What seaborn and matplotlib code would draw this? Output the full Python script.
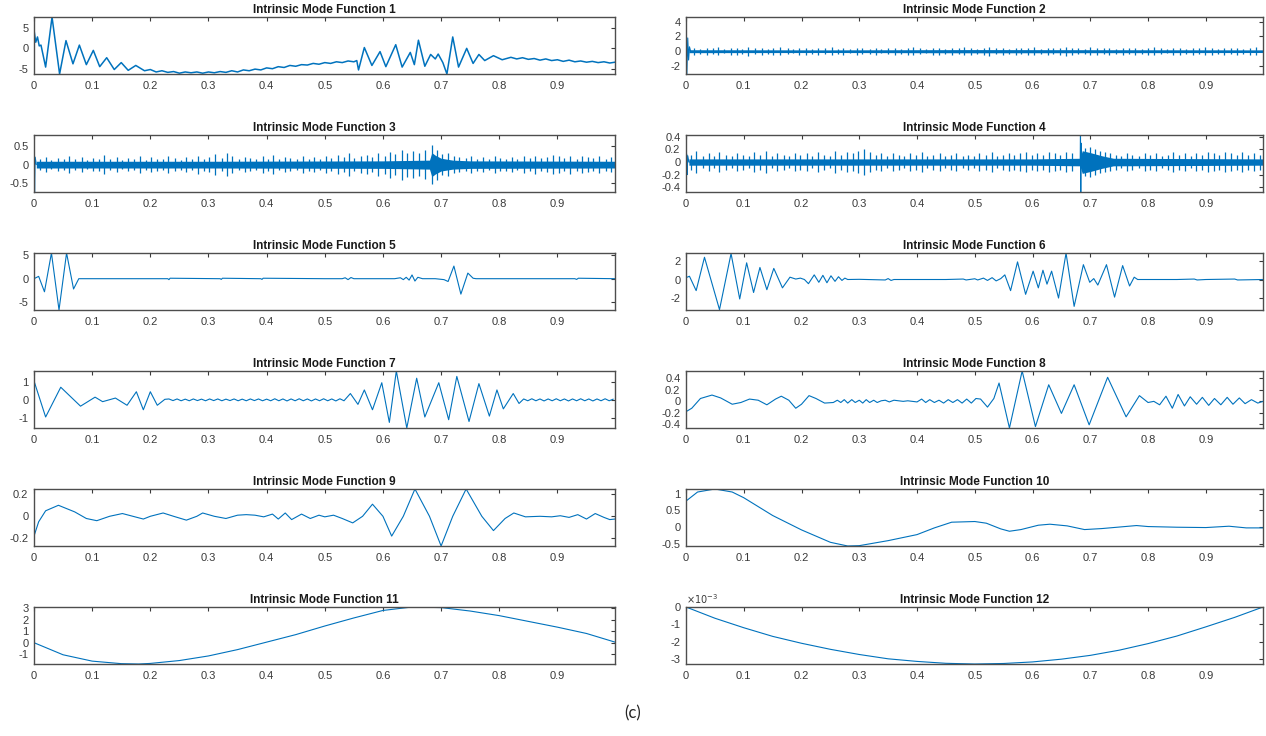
import numpy as np
import matplotlib
matplotlib.use("Agg")
import matplotlib.pyplot as plt
from matplotlib.ticker import FuncFormatter
import seaborn as sns

# ---- values (t in seconds) ----
imf1_t = [0, 0.003, 0.006, 0.009, 0.012, 0.02, 0.031, 0.044, 0.055, 0.067, 0.078, 0.09, 0.102, 0.113,
          0.125, 0.138, 0.15, 0.162, 0.175, 0.19, 0.2, 0.21, 0.22, 0.23, 0.24, 0.25, 0.26, 0.27, 0.28,
          0.29, 0.30, 0.31, 0.32, 0.33, 0.34, 0.35, 0.36, 0.37, 0.38, 0.39, 0.40, 0.41, 0.42, 0.43,
          0.44, 0.45, 0.46, 0.47, 0.48, 0.49, 0.50, 0.51, 0.52, 0.53, 0.54, 0.55, 0.555, 0.558, 0.568,
          0.581, 0.595, 0.605, 0.622, 0.633, 0.647, 0.654, 0.661, 0.672, 0.682, 0.69, 0.695, 0.703,
          0.71, 0.72, 0.73, 0.744, 0.755, 0.765, 0.775, 0.79, 0.805, 0.82, 0.83, 0.84, 0.85, 0.86,
          0.87, 0.88, 0.89, 0.9, 0.91, 0.92, 0.93, 0.94, 0.95, 0.96, 0.97, 0.98, 0.99, 0.999]
imf1_v = [4.5, 1.5, 2.8, 0.6, 0.8, -4.6, 7.7, -6.3, 1.9, -3.8, 0.8, -4.0, -0.5, -4.5,
          -2.3, -5.2, -3.5, -5.4, -4.2, -5.5, -5.2, -5.8, -5.5, -5.9, -5.7, -6.1, -5.8, -6.0, -5.8,
          -6.1, -5.8, -6.0, -5.7, -5.9, -5.5, -5.8, -5.3, -5.5, -5.1, -5.3, -4.8, -5.0, -4.5, -4.7,
          -4.2, -4.4, -4.0, -4.1, -3.7, -3.9, -3.5, -3.7, -3.3, -3.5, -3.1, -3.3, -3.0, -5.3, 0.2,
          -4.2, -0.8, -4.5, 0.9, -4.6, -1.0, -4.0, 2.0, -4.4, -1.5, -2.6, -1.4, -3.5,
          -6.3, 2.8, -4.6, 0.0, -3.7, -1.5, -3.0, -1.8, -2.8, -2.2, -2.6, -2.3, -2.7, -2.5,
          -2.9, -2.6, -3.0, -2.8, -3.2, -2.9, -3.3, -3.1, -3.4, -3.2, -3.5, -3.3, -3.6, -3.4]

imf2_t = [0, 0.0015, 0.003, 0.0045, 0.006, 0.008]
imf2_v = [4.6, -3.1, 1.8, -1.2, 0.6, 0.0]
imf2_env_t = [0.005, 0.25, 0.5, 0.75, 0.999]
imf2_env_a = [0.2, 0.18, 0.22, 0.2, 0.18]
imf2_burst_t = [0.013, 0.024, 0.036, 0.047, 0.055, 0.066, 0.078, 0.088, 0.097, 0.108,
                0.119, 0.131, 0.142, 0.151, 0.163, 0.176, 0.186, 0.195, 0.207, 0.219,
                0.228, 0.240, 0.252, 0.263, 0.272, 0.284, 0.296, 0.305, 0.318, 0.329,
                0.338, 0.350, 0.361, 0.372, 0.384, 0.393, 0.405, 0.416, 0.427, 0.438,
                0.449, 0.460, 0.472, 0.481, 0.493, 0.504, 0.516, 0.525, 0.537, 0.548,
                0.559, 0.571, 0.580, 0.592, 0.603, 0.614, 0.626, 0.635, 0.647, 0.658,
                0.668, 0.679, 0.691, 0.700, 0.712, 0.724, 0.733, 0.745, 0.756, 0.767,
                0.777, 0.789, 0.800, 0.811, 0.822, 0.833, 0.844, 0.855, 0.866, 0.877,
                0.888, 0.899, 0.910, 0.921, 0.932, 0.943, 0.954, 0.965, 0.976, 0.987]
imf2_burst_a = [0.45, 0.35, 0.5, 0.4, 0.55, 0.3, 0.45, 0.5, 0.35, 0.6,
                0.4, 0.5, 0.35, 0.45, 0.55, 0.4, 0.3, 0.5, 0.45, 0.35,
                0.5, 0.4, 0.55, 0.35, 0.45, 0.3, 0.5, 0.4, 0.35, 0.45,
                0.3, 0.4, 0.5, 0.35, 0.45, 0.55, 0.4, 0.3, 0.5, 0.45,
                0.35, 0.5, 0.4, 0.55, 0.45, 0.35, 0.5, 0.6, 0.4, 0.45,
                0.35, 0.5, 0.4, 0.45, 0.55, 0.35, 0.5, 0.4, 0.45, 0.6,
                0.5, 0.4, 0.35, 0.55, 0.45, 0.4, 0.5, 0.35, 0.45, 0.4,
                0.5, 0.35, 0.45, 0.55, 0.4, 0.3, 0.5, 0.45, 0.35, 0.5,
                0.4, 0.55, 0.45, 0.35, 0.5, 0.4, 0.45, 0.35, 0.5, 0.55]

imf3_t = [0, 0.001, 0.002, 0.004]
imf3_v = [0.79, -0.73, 0.2, 0.0]
imf3_env_t = [0.004, 0.3, 0.6, 0.68, 0.684, 0.69, 0.70, 0.72, 0.75, 0.999]
imf3_env_a = [0.09, 0.09, 0.1, 0.12, 0.32, 0.25, 0.17, 0.12, 0.1, 0.09]
imf3_burst_t = [0.011, 0.021, 0.03, 0.041, 0.052, 0.06, 0.071, 0.082, 0.091, 0.101,
                0.112, 0.121, 0.131, 0.142, 0.152, 0.161, 0.172, 0.183, 0.192, 0.201,
                0.212, 0.222, 0.231, 0.242, 0.253, 0.262, 0.271, 0.282, 0.292, 0.301,
                0.312, 0.323, 0.332, 0.341, 0.352, 0.362, 0.371, 0.382, 0.393, 0.402,
                0.411, 0.422, 0.432, 0.441, 0.452, 0.463, 0.472, 0.481, 0.492, 0.502,
                0.511, 0.522, 0.533, 0.542, 0.551, 0.562, 0.572, 0.581, 0.592, 0.603,
                0.612, 0.621, 0.632, 0.642, 0.651, 0.662, 0.673, 0.684, 0.693, 0.702,
                0.712, 0.722, 0.731, 0.742, 0.752, 0.761, 0.772, 0.783, 0.792, 0.801,
                0.812, 0.822, 0.831, 0.842, 0.853, 0.862, 0.871, 0.882, 0.893, 0.902,
                0.911, 0.922, 0.933, 0.942, 0.952, 0.961, 0.972, 0.983, 0.992]
imf3_burst_a = [0.15, 0.2, 0.12, 0.18, 0.14, 0.22, 0.15, 0.2, 0.12, 0.18,
                0.16, 0.25, 0.14, 0.2, 0.12, 0.18, 0.15, 0.22, 0.13, 0.2,
                0.16, 0.14, 0.22, 0.18, 0.13, 0.2, 0.15, 0.24, 0.16, 0.2,
                0.28, 0.18, 0.3, 0.22, 0.15, 0.2, 0.17, 0.14, 0.22, 0.16,
                0.25, 0.14, 0.2, 0.18, 0.15, 0.22, 0.16, 0.2, 0.14, 0.22,
                0.18, 0.26, 0.2, 0.3, 0.18, 0.22, 0.25, 0.2, 0.3, 0.24,
                0.35, 0.28, 0.4, 0.32, 0.36, 0.3, 0.38, 0.52, 0.4, 0.28,
                0.3, 0.22, 0.2, 0.18, 0.22, 0.16, 0.2, 0.15, 0.22, 0.18,
                0.16, 0.2, 0.14, 0.22, 0.17, 0.24, 0.18, 0.2, 0.26, 0.22,
                0.18, 0.24, 0.16, 0.22, 0.2, 0.18, 0.22, 0.16, 0.2]

imf4_t = [0, 0.001, 0.002, 0.003, 0.005, 0.6825, 0.683, 0.6835, 0.684, 0.685]
imf4_v = [-0.45, 0.13, -0.2, 0.1, 0.0, 0.0, 0.43, -0.476, 0.3, 0.0]
imf4_env_t = [0.005, 0.3, 0.6, 0.682, 0.686, 0.70, 0.72, 0.74, 0.999]
imf4_env_a = [0.05, 0.05, 0.05, 0.06, 0.18, 0.15, 0.1, 0.06, 0.05]
imf4_burst_t = [0.008, 0.018, 0.029, 0.039, 0.048, 0.058, 0.069, 0.079, 0.088, 0.098,
                0.109, 0.118, 0.128, 0.139, 0.149, 0.158, 0.169, 0.179, 0.188, 0.198,
                0.209, 0.219, 0.228, 0.239, 0.249, 0.258, 0.268, 0.279, 0.289, 0.298,
                0.308, 0.318, 0.329, 0.338, 0.348, 0.359, 0.369, 0.378, 0.388, 0.399,
                0.409, 0.418, 0.428, 0.439, 0.449, 0.458, 0.468, 0.479, 0.489, 0.498,
                0.508, 0.519, 0.529, 0.538, 0.548, 0.559, 0.568, 0.578, 0.589, 0.599,
                0.608, 0.618, 0.629, 0.639, 0.648, 0.658, 0.669, 0.691, 0.699, 0.708,
                0.716, 0.725, 0.734, 0.744, 0.754, 0.763, 0.773, 0.784, 0.794, 0.803,
                0.813, 0.824, 0.834, 0.843, 0.853, 0.864, 0.874, 0.883, 0.893, 0.904,
                0.914, 0.923, 0.933, 0.944, 0.954, 0.963, 0.973, 0.984, 0.994]
imf4_burst_a = [0.12, 0.18, 0.1, 0.14, 0.1, 0.16, 0.12, 0.1, 0.15, 0.12,
                0.1, 0.16, 0.12, 0.18, 0.1, 0.14, 0.12, 0.1, 0.15, 0.12,
                0.14, 0.1, 0.16, 0.12, 0.1, 0.18, 0.12, 0.16, 0.14, 0.18,
                0.2, 0.16, 0.12, 0.14, 0.1, 0.15, 0.12, 0.1, 0.14, 0.12,
                0.16, 0.1, 0.12, 0.15, 0.1, 0.12, 0.14, 0.1, 0.12, 0.1,
                0.14, 0.12, 0.16, 0.1, 0.12, 0.15, 0.12, 0.14, 0.16, 0.12,
                0.15, 0.12, 0.16, 0.14, 0.12, 0.16, 0.14, 0.22, 0.24, 0.2,
                0.18, 0.16, 0.14, 0.12, 0.1, 0.14, 0.12, 0.1, 0.15, 0.12,
                0.14, 0.1, 0.12, 0.16, 0.12, 0.14, 0.1, 0.15, 0.12, 0.16,
                0.14, 0.12, 0.16, 0.14, 0.12, 0.16, 0.12, 0.14, 0.12]

imf5_t = [0, 0.008, 0.018, 0.03, 0.043, 0.056, 0.068, 0.077, 0.15, 0.23, 0.232, 0.234, 0.32, 0.322,
          0.324, 0.39, 0.392, 0.394, 0.5, 0.53, 0.535, 0.54, 0.545, 0.55, 0.62, 0.63, 0.635, 0.64,
          0.645, 0.65, 0.655, 0.66, 0.668, 0.69, 0.705, 0.712, 0.722, 0.734, 0.746, 0.755, 0.76,
          0.85, 0.93, 0.933, 0.936, 0.999]
imf5_v = [0, 0.5, -2.8, 5.5, -6.7, 5.5, -2.2, 0, 0, 0, -0.2, 0.1, 0, -0.15, 0.1, 0, -0.15, 0.1,
          0, 0, 0.2, -0.2, 0.25, 0, 0, 0.2, -0.2, 0.3, -0.3, 0.8, -0.5, 0.3, 0, 0, -0.2, -0.6,
          2.7, -3.3, 1.2, 0.1, 0, 0, 0, -0.15, 0.1, 0]

imf6_t = [0, 0.006, 0.0176, 0.032, 0.058, 0.078, 0.093, 0.105, 0.117, 0.128, 0.14, 0.152, 0.167,
          0.18, 0.19, 0.198, 0.205, 0.212, 0.222, 0.23, 0.237, 0.244, 0.251, 0.258, 0.264, 0.27,
          0.275, 0.28, 0.3, 0.345, 0.35, 0.355, 0.36, 0.45, 0.48, 0.485, 0.5, 0.505, 0.515, 0.522,
          0.53, 0.537, 0.545, 0.552, 0.562, 0.574, 0.588, 0.601, 0.61, 0.618, 0.625, 0.633, 0.645,
          0.658, 0.672, 0.688, 0.699, 0.706, 0.713, 0.728, 0.742, 0.756, 0.768, 0.776, 0.782,
          0.85, 0.88, 0.885, 0.9, 0.95, 0.955, 0.999]
imf6_v = [0.2, 0.35, -1.2, 2.4, -3.25, 2.8, -2.1, 1.8, -1.4, 1.3, -1.1, 1.2, -0.9,
          0.25, 0.05, 0.15, 0.0, -0.45, 0.5, -0.3, 0.45, -0.35, 0.4, -0.2, 0.3, -0.1,
          0.15, 0.0, 0.02, -0.05, 0.1, -0.1, 0.0, 0.0, 0.05, -0.05, 0.08, -0.05, 0.15, -0.1,
          0.2, -0.15, 0.1, 0.5, -1.2, 1.9, -1.6, 0.9, -0.9, 1.0, -0.5, 0.9, -2.0,
          2.85, -2.9, 1.6, -0.3, 0.1, -0.6, 1.6, -1.9, 1.5, -0.7, 0.25, 0.0,
          0.0, 0.05, -0.05, 0.0, 0.05, -0.05, 0.0]

imf7_t = [0, 0.02, 0.046, 0.08, 0.105, 0.118, 0.14, 0.16, 0.176, 0.188, 0.2, 0.212, 0.225,
          0.232, 0.239, 0.246, 0.253, 0.26, 0.267, 0.274, 0.281, 0.288, 0.295, 0.302, 0.309,
          0.316, 0.323, 0.33, 0.337, 0.344, 0.351, 0.358, 0.365, 0.372, 0.379, 0.386, 0.393,
          0.4, 0.407, 0.414, 0.421, 0.428, 0.435, 0.442, 0.449, 0.456, 0.463, 0.47, 0.477,
          0.484, 0.491, 0.498, 0.505, 0.512, 0.519, 0.526, 0.533,
          0.544, 0.557, 0.568, 0.582, 0.598, 0.611, 0.623, 0.641, 0.658, 0.672, 0.696, 0.713,
          0.727, 0.748, 0.765, 0.783, 0.796, 0.807, 0.824, 0.834,
          0.842, 0.849, 0.856, 0.863, 0.87, 0.877, 0.884, 0.891, 0.898, 0.905, 0.912, 0.919,
          0.926, 0.933, 0.94, 0.947, 0.954, 0.961, 0.968, 0.975, 0.982, 0.989, 0.996]
imf7_v = [1.05, -0.95, 0.7, -0.35, 0.15, -0.1, 0.1, -0.3, 0.45, -0.55, 0.45, -0.3, 0.03,
          0.05, -0.04, 0.05, -0.05, 0.04, -0.05, 0.05, -0.04, 0.04, -0.05, 0.05, -0.04,
          0.05, -0.05, 0.04, -0.04, 0.05, -0.05, 0.04, -0.05, 0.05, -0.04, 0.05, -0.05,
          0.04, -0.05, 0.06, -0.05, 0.05, -0.06, 0.05, -0.05, 0.06, -0.05, 0.05, -0.06,
          0.05, -0.05, 0.06, -0.05, 0.05, -0.06, 0.06, -0.05,
          0.35, -0.25, 0.55, -0.55, 0.95, -1.25, 1.6, -1.56, 1.2, -0.95, 0.95, -1.1,
          1.3, -1.2, 0.9, -0.9, 0.55, -0.5, 0.35, -0.2,
          0.05, -0.05, 0.06, -0.05, 0.05, -0.06, 0.05, -0.05, 0.06, -0.05, 0.05, -0.06,
          0.05, -0.05, 0.06, -0.05, 0.05, -0.06, 0.05, -0.05, 0.06, -0.05, 0.04]

imf8_t = [0, 0.01, 0.025, 0.045, 0.06, 0.08, 0.095, 0.11, 0.125, 0.14, 0.155, 0.165, 0.178,
          0.19, 0.2, 0.213, 0.225, 0.24, 0.255, 0.262, 0.268, 0.274, 0.28, 0.287, 0.293, 0.3,
          0.306, 0.312, 0.318, 0.325, 0.331, 0.338, 0.345, 0.352, 0.36, 0.368, 0.376, 0.384,
          0.392, 0.4, 0.408, 0.415, 0.422, 0.43, 0.438, 0.446, 0.454, 0.462, 0.47, 0.478,
          0.486, 0.494, 0.502, 0.51, 0.522, 0.533, 0.542, 0.56, 0.582, 0.605, 0.628, 0.65,
          0.672, 0.698, 0.73, 0.762, 0.785, 0.8, 0.81, 0.82, 0.831, 0.842, 0.852, 0.863,
          0.873, 0.884, 0.894, 0.905, 0.915, 0.926, 0.937, 0.947, 0.958, 0.968, 0.979,
          0.99, 0.999]
imf8_v = [-0.18, -0.12, 0.05, 0.11, 0.06, -0.05, -0.02, 0.04, 0.02, -0.06, 0.04, 0.09, 0.02,
          -0.12, -0.05, 0.1, 0.05, -0.03, -0.02, 0.02, -0.02, 0.03, -0.03, 0.03, -0.02, 0.02,
          -0.03, 0.03, -0.02, 0.02, -0.02, 0.01, 0.02, -0.01, 0.02, 0.01, 0.0, 0.01,
          0.0, -0.01, 0.04, -0.02, 0.03, -0.02, 0.02, -0.03, 0.03, -0.02, 0.03, -0.03,
          0.04, -0.03, 0.05, 0.04, -0.1, 0.05, 0.32, -0.465, 0.53, -0.44, 0.29, -0.21,
          0.29, -0.41, 0.42, -0.27, 0.1, -0.02, 0.0, -0.06, 0.09, -0.12, 0.12, -0.08,
          0.08, -0.05, 0.07, -0.07, 0.05, -0.06, 0.07, -0.05, 0.06, -0.04, 0.03,
          -0.03, 0.0]

imf9_t = [0, 0.008, 0.02, 0.042, 0.07, 0.09, 0.108, 0.13, 0.152, 0.17, 0.188, 0.2, 0.222, 0.24,
          0.262, 0.28, 0.29, 0.31, 0.33, 0.35, 0.365, 0.38, 0.395, 0.41, 0.42, 0.432, 0.443,
          0.46, 0.475, 0.49, 0.5, 0.515, 0.53, 0.548, 0.565, 0.582, 0.6, 0.615, 0.635, 0.655,
          0.68, 0.7, 0.72, 0.743, 0.77, 0.79, 0.81, 0.825, 0.845, 0.87, 0.89, 0.905, 0.92,
          0.935, 0.95, 0.965, 0.98, 0.99, 0.999]
imf9_v = [-0.18, -0.05, 0.05, 0.1, 0.04, -0.02, -0.04, 0.0, 0.025, 0.0, -0.025, 0.0, 0.03, 0.0,
          -0.035, 0.0, 0.03, 0.0, -0.02, 0.01, 0.015, 0.01, -0.005, 0.02, -0.025, 0.03, -0.03,
          0.02, -0.02, 0.01, -0.005, 0.01, -0.02, -0.06, 0.0, 0.11, 0.0, -0.18, 0.0, 0.248,
          0.0, -0.27, 0.0, 0.248, 0.0, -0.13, -0.02, 0.03, -0.005, 0.0, -0.005, 0.005, -0.01,
          0.015, -0.025, 0.025, -0.01, -0.03, -0.025]

imf10_t = [0, 0.02, 0.05, 0.08, 0.1, 0.15, 0.2, 0.25, 0.28, 0.3, 0.35, 0.4, 0.43, 0.46, 0.5,
           0.52, 0.545, 0.56, 0.58, 0.61, 0.63, 0.66, 0.69, 0.72, 0.76, 0.78, 0.8, 0.85, 0.9,
           0.94, 0.97, 0.999]
imf10_v = [0.78, 1.05, 1.14, 1.05, 0.88, 0.35, -0.08, -0.45, -0.56, -0.55, -0.4, -0.22, -0.02,
           0.15, 0.17, 0.12, -0.05, -0.12, -0.07, 0.06, 0.09, 0.04, -0.07, -0.04, 0.02, 0.05,
           0.02, 0.0, -0.01, 0.03, -0.02, -0.02]

imf11_t = [0, 0.05, 0.1, 0.15, 0.18, 0.2, 0.25, 0.3, 0.35, 0.4, 0.45, 0.5, 0.55, 0.6, 0.65, 0.7,
           0.75, 0.8, 0.85, 0.9, 0.95, 0.999]
imf11_v = [0.0, -1.05, -1.6, -1.82, -1.85, -1.8, -1.55, -1.15, -0.6, 0.05, 0.7, 1.45, 2.15, 2.8,
           3.1, 3.05, 2.75, 2.35, 1.85, 1.35, 0.8, 0.05]

imf12_t = [0, 0.05, 0.1, 0.15, 0.2, 0.25, 0.3, 0.35, 0.4, 0.45, 0.5, 0.55, 0.6, 0.65, 0.7, 0.75,
           0.8, 0.85, 0.9, 0.95, 0.999]
imf12_v_milli = [0.0, -0.65, -1.2, -1.7, -2.1, -2.45, -2.75, -3.0, -3.15, -3.26, -3.3, -3.27,
                 -3.18, -3.02, -2.8, -2.5, -2.12, -1.68, -1.15, -0.6, 0.0]

xticks = [0, 0.1, 0.2, 0.3, 0.4, 0.5, 0.6, 0.7, 0.8, 0.9]

# (series, noise, ylim, yticks)
panels = [
    ((imf1_t, imf1_v), None, (-6.3, 7.7), [-5, 0, 5]),
    ((imf2_t, imf2_v), (imf2_env_t, imf2_env_a, imf2_burst_t, imf2_burst_a), (-3.1, 4.65), [-2, 0, 2, 4]),
    ((imf3_t, imf3_v), (imf3_env_t, imf3_env_a, imf3_burst_t, imf3_burst_a), (-0.73, 0.79), [-0.5, 0, 0.5]),
    ((imf4_t, imf4_v), (imf4_env_t, imf4_env_a, imf4_burst_t, imf4_burst_a), (-0.476, 0.43), [-0.4, -0.2, 0, 0.2, 0.4]),
    ((imf5_t, imf5_v), None, (-6.7, 5.5), [-5, 0, 5]),
    ((imf6_t, imf6_v), None, (-3.29, 2.86), [-2, 0, 2]),
    ((imf7_t, imf7_v), None, (-1.56, 1.6), [-1, 0, 1]),
    ((imf8_t, imf8_v), None, (-0.465, 0.53), [-0.4, -0.2, 0, 0.2, 0.4]),
    ((imf9_t, imf9_v), None, (-0.27, 0.248), [-0.2, 0, 0.2]),
    ((imf10_t, imf10_v), None, (-0.56, 1.14), [-0.5, 0, 0.5, 1]),
    ((imf11_t, imf11_v), None, (-1.85, 3.1), [-1, 0, 1, 2, 3]),
    ((imf12_t, imf12_v_milli), None, (-3.3, 0), [-3, -2, -1, 0]),
]

sns.set_theme(style="white")
plt.rcParams['font.family'] = ['Liberation Sans', 'DejaVu Sans']
plt.rcParams['axes.unicode_minus'] = False

blue = '#0072BD'
W, H = 1266, 736
fig = plt.figure(figsize=(W / 100, H / 100), dpi=100)
fmt = FuncFormatter(lambda v, p: '%g' % round(v, 6))

for i, (line, noise, ylim, yticks) in enumerate(panels):
    row, col = divmod(i, 2)
    top = 17 + 118 * row
    h = 57
    if col == 0:
        rect = [34 / W, 1 - (top + h) / H, 581 / W, h / H]
    else:
        rect = [686 / W, 1 - (top + h) / H, 577 / W, h / H]
    ax = fig.add_axes(rect)

    if noise is not None:
        env_t, env_a, b_t, b_a = noise
        ax.fill_between(env_t, -np.array(env_a), env_a, color=blue, lw=0)
        ax.vlines(b_t, -np.array(b_a), b_a, color=blue, lw=0.9)
    lw = 1.1 if i == 0 else 0.8
    sns.lineplot(x=line[0], y=line[1], ax=ax, color=blue, linewidth=lw,
                 estimator=None, sort=False)

    ax.set_xlim(0, 0.999)
    ax.set_ylim(*ylim)
    ax.set_xticks(xticks)
    ax.set_yticks(yticks)
    ax.xaxis.set_major_formatter(fmt)
    ax.yaxis.set_major_formatter(fmt)
    ax.set_xlabel('')
    ax.set_ylabel('')
    ax.tick_params(direction='in', length=3, width=0.8, top=True, right=True,
                   labelsize=8, colors='#3a3a3a', pad=4)
    ax.tick_params(axis='x', pad=5)
    for s in ax.spines.values():
        s.set_color('#4d4d4d')
        s.set_linewidth(1.0)
    ax.set_title('Intrinsic Mode Function %d' % (i + 1), fontsize=8.5,
                 fontweight='bold', pad=3, color='#1a1a1a')
    if i == 11:
        ax.text(0.0, 1.01, r'$\times10^{-3}$', transform=ax.transAxes,
                fontsize=7, ha='left', va='bottom', color='#3a3a3a')

fig.text(0.5, 1 - 713 / H, '(c)', ha='center', va='center', fontsize=12,
         family=['Lato', 'DejaVu Sans'])

fig.savefig('out.png', dpi=100)
